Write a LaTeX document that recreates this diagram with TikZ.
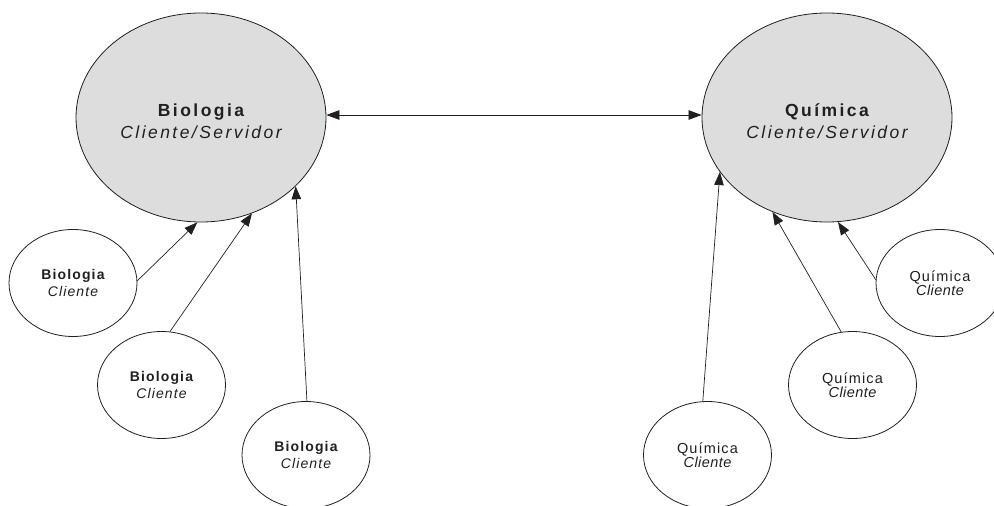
\documentclass[tikz,border=0pt]{standalone}
\usepackage{fontspec}
\setmainfont{Liberation Sans}
\newfontfamily\wideS[LetterSpace=14]{Liberation Sans}
\newfontfamily\midS[LetterSpace=8]{Liberation Sans}
\newfontfamily\narS[LetterSpace=3]{Liberation Sans}
\usetikzlibrary{shapes.geometric,arrows.meta}
\definecolor{ink}{HTML}{231F20}
\definecolor{srvfill}{HTML}{DDDDDD}
\tikzset{
  server/.style={ellipse, draw=ink, fill=srvfill, line width=0.8pt,
    minimum width=250pt, minimum height=209pt, inner sep=0pt},
  srvtext/.style={align=center, inner sep=0pt, text=ink,
    font=\wideS\fontsize{17.5}{22}\selectfont},
  client/.style={ellipse, draw=ink, fill=white, line width=0.8pt,
    minimum width=128pt, minimum height=107pt, inner sep=0pt, align=center,
    text=ink},
  bioclient/.style={client, font=\midS\fontsize{14}{17}\selectfont},
  quiclient/.style={client, font=\fontsize{14.5}{14.5}\selectfont},
  link/.style={draw=ink, line width=0.7pt, -{Triangle[length=13pt,width=9.5pt]}},
  duallink/.style={draw=ink, line width=0.7pt,
    {Triangle[length=13pt,width=9.5pt]}-{Triangle[length=13pt,width=9.5pt]}},
}
\begin{document}
\begin{tikzpicture}[x=1pt,y=-1pt]
\useasboundingbox (0,0) rectangle (994,506);
% servers
\node[server] (bigB) at (201,117.5) {};
\node[srvtext] (bigBt) at (201,121) {{\bfseries Biologia}\\{\itshape Cliente/Servidor}};
\node[server] (bigQ) at (827,117.5) {};
\node[srvtext] (bigQt) at (827,121) {{\bfseries Química}\\{\itshape Cliente/Servidor}};
% biology clients
\node[bioclient] (b1) at (73,283) {{\bfseries Biologia}\\{\itshape Cliente}};
\node[bioclient] (b2) at (161.5,385) {{\bfseries Biologia}\\{\itshape Cliente}};
\node[bioclient] (b3) at (306,455) {{\bfseries Biologia}\\{\itshape Cliente}};
% chemistry clients
\node[quiclient] (q1) at (707.5,455) {{\midS Química}\\{\narS\itshape Cliente}};
\node[quiclient] (q2) at (852.5,385) {{\midS Química}\\{\narS\itshape Cliente}};
\node[quiclient] (q3) at (940,283) {{\midS Química}\\{\narS\itshape Cliente}};
% connectors
\draw[duallink] ([yshift=2.5pt]bigB.east) -- ([yshift=2.5pt]bigQ.west);
\draw[link] (b1.2) -- (bigB.-92.1);
\draw[link] (b2.81) -- (bigB.-62.4);
\draw[link] (b3.89) -- (bigB.-36.5);
\draw[link] (q1.95) -- (bigQ.-153);
\draw[link] (q2.102) -- (bigQ.-120.7);
\draw[link] (q3.177) -- (bigQ.-84.6);
\end{tikzpicture}
\end{document}
